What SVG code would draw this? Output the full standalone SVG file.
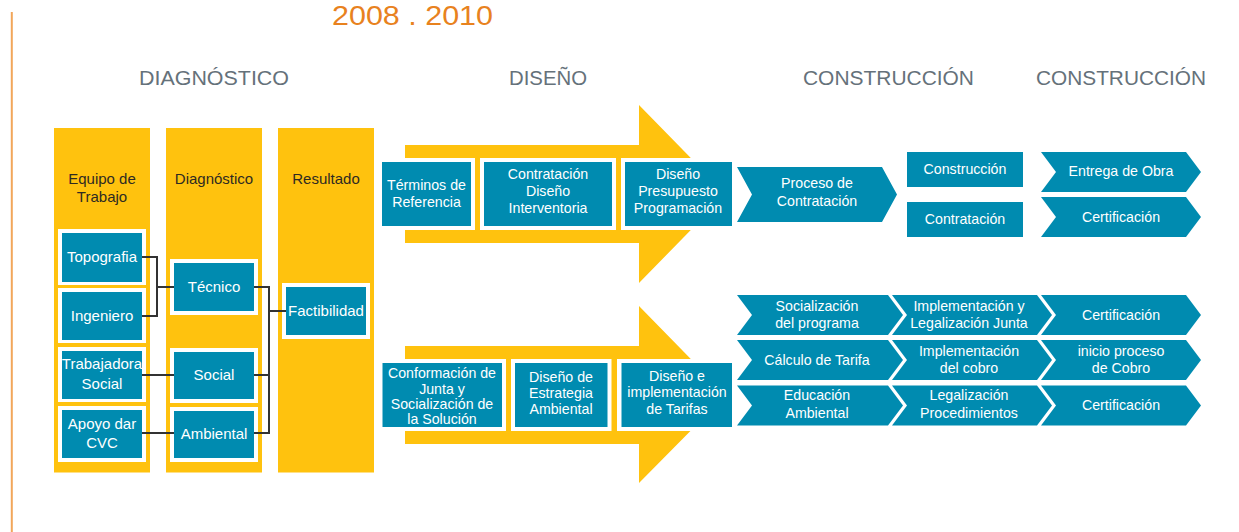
<svg xmlns="http://www.w3.org/2000/svg" width="1239" height="532" viewBox="0 0 1239 532">
<defs>
<style>
.bg{fill:#ffffff}
.col{fill:#FFC20E}
.arrow{fill:#FFC20E}
.wb{fill:#ffffff}
.tl{fill:#008BB0}
.nt{font-family:"Liberation Sans",Arial,sans-serif;font-size:14.2px;fill:#ffffff;text-anchor:middle}
.ln{font-family:"Liberation Sans",Arial,sans-serif;font-size:15px;fill:#ffffff;text-anchor:middle}
.ch{font-family:"Liberation Sans",Arial,sans-serif;font-size:15px;fill:#2E2A22;text-anchor:middle}
.hd{font-family:"Liberation Sans",Arial,sans-serif;font-size:20px;fill:#65717A}
.ttl{font-family:"Liberation Sans",Arial,sans-serif;font-size:27px;fill:#E8821E}
.cn{fill:none;stroke:#333333;stroke-width:2}
</style>
</defs>
<rect class="bg" x="0" y="0" width="1239" height="532"/>
<line x1="11.8" y1="12" x2="11.8" y2="532" stroke="#F2A65A" stroke-width="2"/>
<text class="ttl" x="332" y="25" textLength="161" lengthAdjust="spacingAndGlyphs">2008 . 2010</text>
<text class="hd" x="139" y="85" textLength="150" lengthAdjust="spacingAndGlyphs">DIAGNÓSTICO</text>
<text class="hd" x="509" y="85" textLength="78" lengthAdjust="spacingAndGlyphs">DISEÑO</text>
<text class="hd" x="803" y="85" textLength="171" lengthAdjust="spacingAndGlyphs">CONSTRUCCIÓN</text>
<text class="hd" x="1036" y="85" textLength="170" lengthAdjust="spacingAndGlyphs">CONSTRUCCIÓN</text>

<g id="col-equipo">
<rect class="col" x="54" y="128" width="96" height="344.5"/>
<text class="ch" x="102" y="184">Equipo de</text>
<text class="ch" x="102" y="202">Trabajo</text>
</g>
<g id="col-diagnostico">
<rect class="col" x="166" y="128" width="96" height="344.5"/>
<text class="ch" x="214" y="184">Diagnóstico</text>
</g>
<g id="col-resultado">
<rect class="col" x="278" y="128" width="96" height="344.5"/>
<text class="ch" x="326" y="184">Resultado</text>
</g>

<g id="arrow-top"><polygon class="arrow" points="405,145 639,145 639,105 726,194 639,283 639,243 405,243"/></g>
<g id="arrow-bottom"><polygon class="arrow" points="405,346 639,346 639,306 726,395 639,483 639,444 405,444"/></g>

<g id="n-topografia"><rect class="wb" x="58" y="229" width="88" height="56"/><rect class="tl" x="62" y="233" width="80" height="49"/><text class="ln" x="102" y="262">Topografia</text></g>
<g id="n-ingeniero"><rect class="wb" x="58" y="288" width="88" height="55"/><rect class="tl" x="62" y="292" width="80" height="48"/><text class="ln" x="102" y="321">Ingeniero</text></g>
<g id="n-trabajadora"><rect class="wb" x="58" y="347" width="88" height="55"/><rect class="tl" x="62" y="351" width="80" height="48"/><text class="ln" x="102" y="369">Trabajadora</text><text class="ln" x="102" y="389">Social</text></g>
<g id="n-apoyo"><rect class="wb" x="58" y="406" width="88" height="56"/><rect class="tl" x="62" y="410" width="80" height="48"/><text class="ln" x="102" y="429">Apoyo dar</text><text class="ln" x="102" y="448">CVC</text></g>
<g id="n-tecnico"><rect class="wb" x="170" y="259" width="88" height="56"/><rect class="tl" x="174" y="263" width="80" height="48"/><text class="ln" x="214" y="292">Técnico</text></g>
<g id="n-social"><rect class="wb" x="170" y="348" width="88" height="55"/><rect class="tl" x="174" y="352" width="80" height="47"/><text class="ln" x="214" y="380">Social</text></g>
<g id="n-ambiental"><rect class="wb" x="170" y="407" width="88" height="55"/><rect class="tl" x="174" y="411" width="80" height="47"/><text class="ln" x="214" y="439">Ambiental</text></g>
<g id="n-factibilidad"><rect class="wb" x="282" y="283" width="88" height="56"/><rect class="tl" x="286" y="287" width="80" height="48"/><text class="ln" x="326" y="316">Factibilidad</text></g>

<g id="n-terminos"><rect class="wb" x="378" y="158" width="97" height="72"/><rect class="tl" x="382" y="162" width="89" height="64"/><text class="nt" x="426.5" y="190">Términos de</text><text class="nt" x="426.5" y="206.5">Referencia</text></g>
<g id="n-contratacion-diseno"><rect class="wb" x="480" y="158" width="136" height="72"/><rect class="tl" x="484" y="162" width="128" height="64"/><text class="nt" x="548" y="179">Contratación</text><text class="nt" x="548" y="196">Diseño</text><text class="nt" x="548" y="213">Interventoria</text></g>
<g id="n-diseno-presupuesto"><rect class="wb" x="621" y="158" width="115" height="72"/><rect class="tl" x="625" y="162" width="107" height="64"/><text class="nt" x="678" y="179">Diseño</text><text class="nt" x="678" y="196">Presupuesto</text><text class="nt" x="678" y="213">Programación</text></g>

<g id="n-conformacion"><rect class="wb" x="378.5" y="359" width="127.5" height="72"/><rect class="tl" x="382.5" y="363" width="119.5" height="64"/><text class="nt" x="442" y="377.5">Conformación de</text><text class="nt" x="442" y="393.5">Junta y</text><text class="nt" x="442" y="409">Socialización de</text><text class="nt" x="442" y="424">la Solución</text></g>
<g id="n-estrategia"><rect class="wb" x="511" y="359" width="100.5" height="72"/><rect class="tl" x="515" y="363" width="92.5" height="64"/><text class="nt" x="561" y="381.5">Diseño de</text><text class="nt" x="561" y="398">Estrategia</text><text class="nt" x="561" y="414">Ambiental</text></g>
<g id="n-tarifas"><rect class="wb" x="617" y="359" width="119" height="72"/><rect class="tl" x="621.5" y="363" width="110.5" height="64"/><text class="nt" x="677" y="380.5">Diseño e</text><text class="nt" x="677" y="397">implementación</text><text class="nt" x="677" y="414">de Tarifas</text></g>

<g id="n-proceso"><polygon class="tl" points="737,167 882,167 897,194.5 882,222 737,222 752,194.5"/><text class="nt" x="817" y="188">Proceso de</text><text class="nt" x="817" y="206">Contratación</text></g>
<g id="n-construccion"><rect class="tl" x="907" y="152" width="116" height="35"/><text class="nt" x="965" y="173.5">Construcción</text></g>
<g id="n-contratacion"><rect class="tl" x="907" y="202" width="116" height="35"/><text class="nt" x="965" y="223.5">Contratación</text></g>
<g id="n-entrega"><polygon class="tl" points="1041,152 1186,152 1201,172 1186,192 1041,192 1056,172"/><text class="nt" x="1121" y="176">Entrega de Obra</text></g>
<g id="n-certificacion-top"><polygon class="tl" points="1041,197 1186,197 1201,217 1186,237 1041,237 1056,217"/><text class="nt" x="1121" y="221.5">Certificación</text></g>

<g id="n-socializacion"><polygon class="tl" points="737,295 888,295 903,315 888,335 737,335 752,315"/><text class="nt" x="817" y="311">Socialización</text><text class="nt" x="817" y="328">del programa</text></g>
<g id="n-impl-legal"><polygon class="tl" points="892,295 1037,295 1052,315 1037,335 892,335 907,315"/><text class="nt" x="969" y="311">Implementación y</text><text class="nt" x="969" y="328">Legalización Junta</text></g>
<g id="n-cert-1"><polygon class="tl" points="1041,295 1186,295 1201,315 1186,335 1041,335 1056,315"/><text class="nt" x="1121" y="319.5">Certificación</text></g>
<g id="n-calculo"><polygon class="tl" points="737,340 888,340 903,360 888,380 737,380 752,360"/><text class="nt" x="817" y="365">Cálculo de Tarifa</text></g>
<g id="n-impl-cobro"><polygon class="tl" points="892,340 1037,340 1052,360 1037,380 892,380 907,360"/><text class="nt" x="969" y="356">Implementación</text><text class="nt" x="969" y="372.5">del cobro</text></g>
<g id="n-inicio-cobro"><polygon class="tl" points="1041,340 1186,340 1201,360 1186,380 1041,380 1056,360"/><text class="nt" x="1121" y="356">inicio proceso</text><text class="nt" x="1121" y="372.5">de Cobro</text></g>
<g id="n-educacion"><polygon class="tl" points="737,385.5 888,385.5 903,405.5 888,425.5 737,425.5 752,405.5"/><text class="nt" x="817" y="400">Educación</text><text class="nt" x="817" y="417.5">Ambiental</text></g>
<g id="n-legal-proc"><polygon class="tl" points="892,385.5 1037,385.5 1052,405.5 1037,425.5 892,425.5 907,405.5"/><text class="nt" x="969" y="400">Legalización</text><text class="nt" x="969" y="417.5">Procedimientos</text></g>
<g id="n-cert-3"><polygon class="tl" points="1041,385.5 1186,385.5 1201,405.5 1186,425.5 1041,425.5 1056,405.5"/><text class="nt" x="1121" y="410">Certificación</text></g>

<g id="connectors">
<path class="cn" d="M142,257 H157 V316 H142"/>
<path class="cn" d="M157,287 H174"/>
<path class="cn" d="M142,375 H174"/>
<path class="cn" d="M142,433 H174"/>
<path class="cn" d="M254,287 H269 V433 H254"/>
<path class="cn" d="M254,375 H269"/>
<path class="cn" d="M269,311 H286"/>
</g>
</svg>
